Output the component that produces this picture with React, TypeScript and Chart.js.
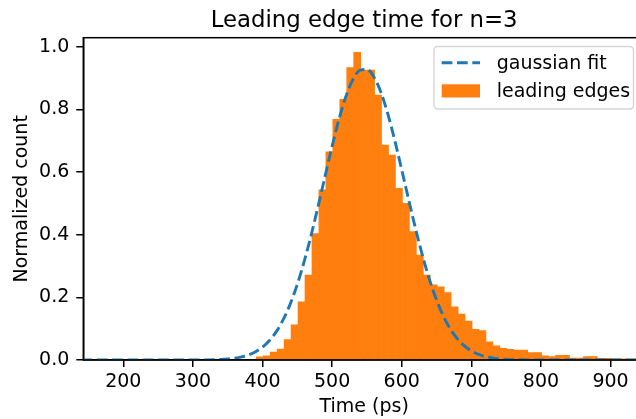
import { useEffect, useRef } from "react";
import { Chart, registerables } from "chart.js";

Chart.register(...registerables);

const TITLE = "Leading edge time for n=3";
const X_LABEL = "Time (ps)";
const Y_LABEL = "Normalized count";
const LEGEND_FIT = "gaussian fit";
const LEGEND_HIST = "leading edges";

// histogram bin centres (ps) and normalized counts
const binCenters = [
  396, 406, 416, 426, 436, 446, 456, 466, 476, 486, 496, 506, 516, 526, 536, 546, 556, 566,
  576, 586, 596, 606, 616, 626, 636, 646, 656, 666, 676, 686, 696, 706, 716, 726, 736, 746,
  756, 766, 776, 786, 796, 806, 816, 826, 836, 846, 856, 866, 876, 886, 896, 906, 916, 926, 936,
];
const binCounts = [
  0.010, 0.013, 0.025, 0.035, 0.065, 0.112, 0.186, 0.271, 0.404, 0.543, 0.665, 0.768, 0.832,
  0.934, 0.982, 0.926, 0.926, 0.846, 0.686, 0.654, 0.548, 0.500, 0.410, 0.335, 0.271, 0.240,
  0.234, 0.215, 0.170, 0.147, 0.124, 0.098, 0.094, 0.058, 0.045, 0.037, 0.034, 0.032, 0.032,
  0.024, 0.024, 0.013, 0.011, 0.015, 0.015, 0.006, 0.006, 0.011, 0.011, 0.005, 0.005, 0.004,
  0.004, 0.003, 0.003,
];

// gaussian fit curve
const fitTimes = [
  140, 200, 250, 300, 320, 340, 350, 360, 370, 380, 390, 400, 410, 420, 430, 440, 450, 460,
  470, 480, 490, 500, 510, 520, 530, 540, 550, 560, 570, 580, 590, 600, 610, 620, 630, 640,
  650, 660, 670, 680, 690, 700, 710, 720, 730, 740, 750, 760, 780, 800, 850, 900, 960,
];
const fitValues = [
  0, 0, 0, 0.0001, 0.0005, 0.0019, 0.0034, 0.0059, 0.0101, 0.0166, 0.0266, 0.0413, 0.0624,
  0.0914, 0.1302, 0.1801, 0.242, 0.3157, 0.3999, 0.4922, 0.5881, 0.6827, 0.7696, 0.8426,
  0.8959, 0.9251, 0.9278, 0.9038, 0.855, 0.7855, 0.7008, 0.6074, 0.5112, 0.4179, 0.3317,
  0.2558, 0.1915, 0.1392, 0.0984, 0.0675, 0.045, 0.0291, 0.0183, 0.0112, 0.0066, 0.0038,
  0.0021, 0.0012, 0.0003, 0.0001, 0, 0, 0,
];

const xTicks = [200, 300, 400, 500, 600, 700, 800, 900];
const yTicks = [0, 0.2, 0.4, 0.6, 0.8, 1.0];
const X_MIN = 142.5;
const X_MAX = 949.5;
const Y_MIN = 0;
const Y_MAX = 1.029;

const FONT = "'DejaVu Sans', sans-serif";
const BLUE = "#1f77b4";
const ORANGE = "#ff7f0e";
const DASH = [10.7, 4.6];
const FS = 19;

const overlayPlugin = {
  id: "overlay",
  afterDatasetsDraw(chart: any) {
    const ctx = chart.ctx as CanvasRenderingContext2D;
    const a = chart.chartArea;
    ctx.save();
    // spines
    ctx.strokeStyle = "#000";
    ctx.lineWidth = 1.5;
    ctx.setLineDash([]);
    ctx.strokeRect(a.left, a.top, a.right - a.left, a.bottom - a.top);

    // title
    ctx.fillStyle = "#000";
    ctx.font = `22.8px ${FONT}`;
    ctx.textAlign = "center";
    ctx.textBaseline = "alphabetic";
    ctx.fillText(TITLE, (a.left + a.right) / 2, 26.7);

    // legend
    const bw = 199.5;
    const bh = 62.5;
    const bx = a.right - 11.5 - bw;
    const by = a.top + 8.8;
    const r = 4;
    ctx.beginPath();
    ctx.moveTo(bx + r, by);
    ctx.lineTo(bx + bw - r, by);
    ctx.quadraticCurveTo(bx + bw, by, bx + bw, by + r);
    ctx.lineTo(bx + bw, by + bh - r);
    ctx.quadraticCurveTo(bx + bw, by + bh, bx + bw - r, by + bh);
    ctx.lineTo(bx + r, by + bh);
    ctx.quadraticCurveTo(bx, by + bh, bx, by + bh - r);
    ctx.lineTo(bx, by + r);
    ctx.quadraticCurveTo(bx, by, bx + r, by);
    ctx.closePath();
    ctx.fillStyle = "rgba(255,255,255,0.8)";
    ctx.fill();
    ctx.strokeStyle = "rgba(204,204,204,0.8)";
    ctx.lineWidth = 1.4;
    ctx.stroke();

    const hx0 = bx + 7.7;
    const hx1 = bx + 46;
    // dashed handle
    ctx.beginPath();
    ctx.strokeStyle = BLUE;
    ctx.lineWidth = 2.9;
    ctx.setLineDash(DASH);
    ctx.moveTo(hx0, by + 16.2);
    ctx.lineTo(hx1, by + 16.2);
    ctx.stroke();
    ctx.setLineDash([]);
    // patch handle
    ctx.fillStyle = ORANGE;
    ctx.fillRect(hx0, by + 37.8, hx1 - hx0, 13.2);

    ctx.fillStyle = "#000";
    ctx.font = `${FS}px ${FONT}`;
    ctx.textAlign = "left";
    ctx.textBaseline = "alphabetic";
    ctx.fillText(LEGEND_FIT, bx + 62.7, by + 22.6);
    ctx.fillText(LEGEND_HIST, bx + 62.7, by + 50);
    ctx.restore();
  },
};

export default function App() {
  const ref = useRef<HTMLCanvasElement | null>(null);

  useEffect(() => {
    if (!ref.current) return;
    const chart = new Chart(ref.current, {
      type: "bar",
      data: {
        datasets: [
          {
            type: "line",
            label: LEGEND_FIT,
            data: fitTimes.map((x, i) => ({ x, y: fitValues[i] })),
            borderColor: BLUE,
            borderWidth: 2.9,
            borderDash: DASH,
            pointRadius: 0,
            fill: false,
            cubicInterpolationMode: "monotone",
            order: 1,
          } as any,
          {
            type: "bar",
            label: LEGEND_HIST,
            data: binCenters.map((x, i) => ({ x, y: binCounts[i] })),
            backgroundColor: ORANGE,
            borderWidth: 0,
            barPercentage: 1,
            categoryPercentage: 1,
            order: 2,
          } as any,
        ],
      },
      plugins: [overlayPlugin],
      options: {
        animation: false,
        responsive: false,
        devicePixelRatio: 1,
        layout: { padding: { top: 37.7, right: 1, bottom: 0, left: 0 } },
        plugins: {
          legend: { display: false },
          title: { display: false },
          tooltip: { enabled: false },
        },
        scales: {
          x: {
            type: "linear",
            position: "bottom",
            min: X_MIN,
            max: X_MAX,
            offset: false,
            grid: {
              display: true,
              drawOnChartArea: false,
              drawTicks: true,
              tickLength: 7,
              color: "#000",
              lineWidth: 1.5,
              offset: false,
            },
            border: { display: true, color: "#000", width: 1.5 },
            ticks: {
              color: "#000",
              font: { family: FONT, size: FS, lineHeight: 1.2 },
              padding: 3.5,
              maxRotation: 0,
              autoSkip: false,
              callback: (v: any) => String(v),
            },
            afterBuildTicks: (s: any) => {
              s.ticks = xTicks.map((v) => ({ value: v }));
            },
            afterFit: (s: any) => {
              s.height = 59;
            },
            title: {
              display: true,
              text: X_LABEL,
              color: "#000",
              font: { family: FONT, size: FS, lineHeight: 1.2 },
              padding: { top: 0, bottom: 0.5 },
            },
          } as any,
          y: {
            type: "linear",
            min: Y_MIN,
            max: Y_MAX,
            grid: {
              display: true,
              drawOnChartArea: false,
              drawTicks: true,
              tickLength: 7,
              color: "#000",
              lineWidth: 1.5,
            },
            border: { display: true, color: "#000", width: 1.5 },
            ticks: {
              color: "#000",
              font: { family: FONT, size: FS, lineHeight: 1.2 },
              padding: 7,
              autoSkip: false,
              callback: (v: any) => Number(v).toFixed(1),
            },
            afterBuildTicks: (s: any) => {
              s.ticks = yTicks.map((v) => ({ value: v }));
            },
            afterFit: (s: any) => {
              s.width = 83.3;
            },
            title: {
              display: true,
              text: Y_LABEL,
              color: "#000",
              font: { family: FONT, size: FS, lineHeight: 1.2 },
              padding: { top: 11, bottom: 0 },
            },
          } as any,
        },
      },
    });
    return () => chart.destroy();
  }, []);

  return (
    <div
      style={{
        position: "fixed",
        left: 0,
        top: 0,
        width: 636,
        height: 419,
        overflow: "hidden",
        background: "#fff",
      }}
    >
      <canvas
        ref={ref}
        width={646}
        height={419}
        style={{ display: "block", width: 646, height: 419 }}
      />
    </div>
  );
}
